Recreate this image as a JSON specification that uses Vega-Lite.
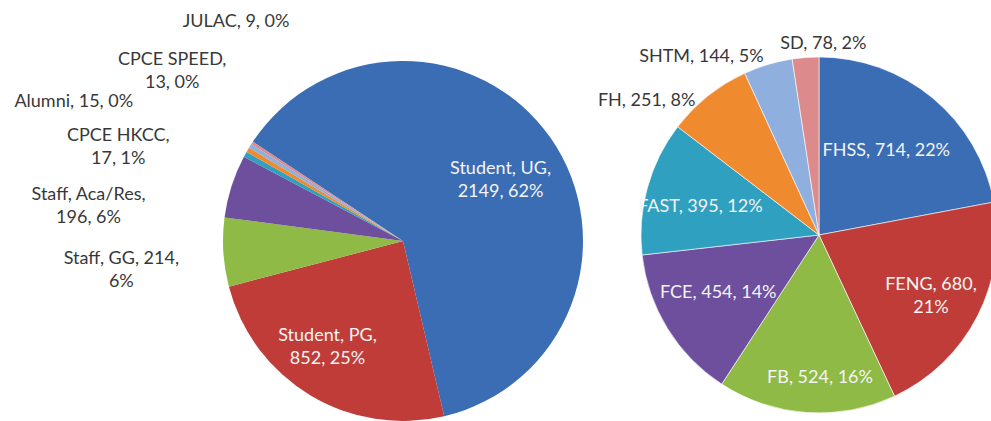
{
  "$schema": "https://vega.github.io/schema/vega-lite/v6.json",
  "autosize": {"type": "fit", "contains": "padding"},
  "width": 991,
  "height": 421,
  "padding": 0,
  "background": "white",
  "config": {
    "view": {"stroke": null},
    "text": {"font": "Lato", "fontSize": 18, "lineHeight": 23, "align": "center", "baseline": "middle"}
  },
  "resolve": {"scale": {"color": "independent", "theta": "independent"}},
  "datasets": {
    "staffstudents": [
      {"chart": "Users", "cat": "Student, UG", "value": 2149, "ord": 1, "label": "Student, UG,\n2149, 62%"},
      {"chart": "Users", "cat": "Student, PG", "value": 852, "ord": 2, "label": "Student, PG,\n852, 25%"},
      {"chart": "Users", "cat": "Staff, GG", "value": 214, "ord": 3, "label": "Staff, GG, 214,\n6%"},
      {"chart": "Users", "cat": "Staff, Aca/Res", "value": 196, "ord": 4, "label": "Staff, Aca/Res,\n196, 6%"},
      {"chart": "Users", "cat": "CPCE HKCC", "value": 17, "ord": 5, "label": "CPCE HKCC,\n17, 1%"},
      {"chart": "Users", "cat": "Alumni", "value": 15, "ord": 6, "label": "Alumni, 15, 0%"},
      {"chart": "Users", "cat": "CPCE SPEED", "value": 13, "ord": 7, "label": "CPCE SPEED,\n13, 0%"},
      {"chart": "Users", "cat": "JULAC", "value": 9, "ord": 8, "label": "JULAC, 9, 0%"}
    ],
    "faculties": [
      {"chart": "Faculties", "cat": "FHSS", "value": 714, "ord": 1, "label": "FHSS, 714, 22%"},
      {"chart": "Faculties", "cat": "FENG", "value": 680, "ord": 2, "label": "FENG, 680,\n21%"},
      {"chart": "Faculties", "cat": "FB", "value": 524, "ord": 3, "label": "FB, 524, 16%"},
      {"chart": "Faculties", "cat": "FCE", "value": 454, "ord": 4, "label": "FCE, 454, 14%"},
      {"chart": "Faculties", "cat": "FAST", "value": 395, "ord": 5, "label": "FAST, 395, 12%"},
      {"chart": "Faculties", "cat": "FH", "value": 251, "ord": 6, "label": "FH, 251, 8%"},
      {"chart": "Faculties", "cat": "SHTM", "value": 144, "ord": 7, "label": "SHTM, 144, 5%"},
      {"chart": "Faculties", "cat": "SD", "value": 78, "ord": 8, "label": "SD, 78, 2%"}
    ]
  },
  "encoding": {
    "x": {"field": "chart", "type": "nominal", "axis": null, "scale": {"type": "point", "domain": ["Users", "Faculties"], "range": [403, 819], "padding": 0}},
    "y": {"field": "chart", "type": "nominal", "axis": null, "scale": {"type": "point", "domain": ["Users", "Faculties"], "range": [241, 235], "padding": 0}}
  },
  "layer": [
    {
      "data": {"name": "staffstudents"},
      "transform": [
        {"stack": "value", "groupby": [], "sort": [{"field": "ord"}], "as": ["v0", "v1"]},
        {"calculate": "(datum.v0 + datum.v1) / 2", "as": "mid"},
        {"calculate": "split(datum.label, '\\n')", "as": "lines"}
      ],
      "layer": [
        {
          "mark": {"type": "arc", "radius": 180},
          "encoding": {
            "theta": {"field": "v0", "type": "quantitative", "stack": null, "scale": {"domain": [0, 3465], "range": [-0.98611, 5.29708]}},
            "theta2": {"field": "v1"},
            "color": {"field": "cat", "type": "nominal", "legend": null,
              "scale": {"domain": ["Student, UG", "Student, PG", "Staff, GG", "Staff, Aca/Res", "CPCE HKCC", "Alumni", "CPCE SPEED", "JULAC"],
                        "range": ["#3A6DB3", "#BF3C39", "#8EBA45", "#6E4F9D", "#2FA0C0", "#F08A2E", "#8FB0DE", "#DC8A8C"]}}
          }
        },
        {
          "transform": [{"filter": "datum.cat == 'Student, UG'"}],
          "mark": {"type": "text", "radius": 114, "dx": 4, "dy": -7, "color": "#F4F4F4"},
          "encoding": {"theta": {"field": "mid", "type": "quantitative", "stack": null, "scale": {"domain": [0, 3465], "range": [-0.98611, 5.29708]}}, "text": {"field": "lines"}}
        },
        {
          "transform": [{"filter": "datum.cat == 'Student, PG'"}],
          "mark": {"type": "text", "radius": 131, "dx": -8, "dy": -17, "color": "#F4F4F4"},
          "encoding": {"theta": {"field": "mid", "type": "quantitative", "stack": null, "scale": {"domain": [0, 3465], "range": [-0.98611, 5.29708]}}, "text": {"field": "lines"}}
        },
        {
          "transform": [{"filter": "datum.cat == 'Staff, GG'"}],
          "mark": {"type": "text", "radius": 180, "dx": -102, "dy": 7, "color": "#383838"},
          "encoding": {"theta": {"field": "mid", "type": "quantitative", "stack": null, "scale": {"domain": [0, 3465], "range": [-0.98611, 5.29708]}}, "text": {"field": "lines"}}
        },
        {
          "transform": [{"filter": "datum.cat == 'Staff, Aca/Res'"}],
          "mark": {"type": "text", "radius": 180, "dx": -143, "dy": 9, "color": "#383838"},
          "encoding": {"theta": {"field": "mid", "type": "quantitative", "stack": null, "scale": {"domain": [0, 3465], "range": [-0.98611, 5.29708]}}, "text": {"field": "lines"}}
        },
        {
          "transform": [{"filter": "datum.cat == 'CPCE HKCC'"}],
          "mark": {"type": "text", "radius": 180, "dx": -127, "dy": -18, "color": "#383838"},
          "encoding": {"theta": {"field": "mid", "type": "quantitative", "stack": null, "scale": {"domain": [0, 3465], "range": [-0.98611, 5.29708]}}, "text": {"field": "lines"}}
        },
        {
          "transform": [{"filter": "datum.cat == 'Alumni'"}],
          "mark": {"type": "text", "radius": 180, "dx": -174, "dy": -48, "color": "#383838"},
          "encoding": {"theta": {"field": "mid", "type": "quantitative", "stack": null, "scale": {"domain": [0, 3465], "range": [-0.98611, 5.29708]}}, "text": {"field": "lines"}}
        },
        {
          "transform": [{"filter": "datum.cat == 'CPCE SPEED'"}],
          "mark": {"type": "text", "radius": 180, "dx": -78, "dy": -86, "color": "#383838"},
          "encoding": {"theta": {"field": "mid", "type": "quantitative", "stack": null, "scale": {"domain": [0, 3465], "range": [-0.98611, 5.29708]}}, "text": {"field": "lines"}}
        },
        {
          "transform": [{"filter": "datum.cat == 'JULAC'"}],
          "mark": {"type": "text", "radius": 180, "dx": -16, "dy": -121, "color": "#383838"},
          "encoding": {"theta": {"field": "mid", "type": "quantitative", "stack": null, "scale": {"domain": [0, 3465], "range": [-0.98611, 5.29708]}}, "text": {"field": "lines"}}
        }
      ]
    },
    {
      "data": {"name": "faculties"},
      "transform": [
        {"stack": "value", "groupby": [], "sort": [{"field": "ord"}], "as": ["v0", "v1"]},
        {"calculate": "(datum.v0 + datum.v1) / 2", "as": "mid"},
        {"calculate": "split(datum.label, '\\n')", "as": "lines"}
      ],
      "layer": [
        {
          "mark": {"type": "arc", "radius": 178, "stroke": "white", "strokeWidth": 0.6},
          "encoding": {
            "theta": {"field": "v0", "type": "quantitative", "stack": null, "scale": {"domain": [0, 3240], "range": [0, 6.28319]}},
            "theta2": {"field": "v1"},
            "color": {"field": "cat", "type": "nominal", "legend": null,
              "scale": {"domain": ["FHSS", "FENG", "FB", "FCE", "FAST", "FH", "SHTM", "SD"],
                        "range": ["#3A6DB3", "#BF3C39", "#8EBA45", "#6E4F9D", "#2FA0C0", "#F08A2E", "#8FB0DE", "#DC8A8C"]}}
          }
        },
        {
          "transform": [{"filter": "datum.cat == 'FHSS'"}],
          "mark": {"type": "text", "radius": 107, "dx": -1, "dy": -2, "color": "#F4F4F4"},
          "encoding": {"theta": {"field": "mid", "type": "quantitative", "stack": null, "scale": {"domain": [0, 3240], "range": [0, 6.28319]}}, "text": {"field": "lines"}}
        },
        {
          "transform": [{"filter": "datum.cat == 'FENG'"}],
          "mark": {"type": "text", "radius": 128, "dx": -2, "dy": -8, "color": "#F4F4F4"},
          "encoding": {"theta": {"field": "mid", "type": "quantitative", "stack": null, "scale": {"domain": [0, 3240], "range": [0, 6.28319]}}, "text": {"field": "lines"}}
        },
        {
          "transform": [{"filter": "datum.cat == 'FB'"}],
          "mark": {"type": "text", "radius": 143, "dx": 11, "dy": 0, "color": "#F4F4F4"},
          "encoding": {"theta": {"field": "mid", "type": "quantitative", "stack": null, "scale": {"domain": [0, 3240], "range": [0, 6.28319]}}, "text": {"field": "lines"}}
        },
        {
          "transform": [{"filter": "datum.cat == 'FCE'"}],
          "mark": {"type": "text", "radius": 116, "dx": -2, "dy": -3, "color": "#F4F4F4"},
          "encoding": {"theta": {"field": "mid", "type": "quantitative", "stack": null, "scale": {"domain": [0, 3240], "range": [0, 6.28319]}}, "text": {"field": "lines"}}
        },
        {
          "transform": [{"filter": "datum.cat == 'FAST'"}],
          "mark": {"type": "text", "radius": 122, "dx": -1, "dy": 5, "color": "#F4F4F4"},
          "encoding": {"theta": {"field": "mid", "type": "quantitative", "stack": null, "scale": {"domain": [0, 3240], "range": [0, 6.28319]}}, "text": {"field": "lines"}}
        },
        {
          "transform": [{"filter": "datum.cat == 'FH'"}],
          "mark": {"type": "text", "radius": 180, "dx": -60, "dy": 7, "color": "#383838"},
          "encoding": {"theta": {"field": "mid", "type": "quantitative", "stack": null, "scale": {"domain": [0, 3240], "range": [0, 6.28319]}}, "text": {"field": "lines"}}
        },
        {
          "transform": [{"filter": "datum.cat == 'SHTM'"}],
          "mark": {"type": "text", "radius": 180, "dx": -66, "dy": -6, "color": "#383838"},
          "encoding": {"theta": {"field": "mid", "type": "quantitative", "stack": null, "scale": {"domain": [0, 3240], "range": [0, 6.28319]}}, "text": {"field": "lines"}}
        },
        {
          "transform": [{"filter": "datum.cat == 'SD'"}],
          "mark": {"type": "text", "radius": 180, "dx": 18, "dy": -12, "color": "#383838"},
          "encoding": {"theta": {"field": "mid", "type": "quantitative", "stack": null, "scale": {"domain": [0, 3240], "range": [0, 6.28319]}}, "text": {"field": "lines"}}
        }
      ]
    }
  ]
}
